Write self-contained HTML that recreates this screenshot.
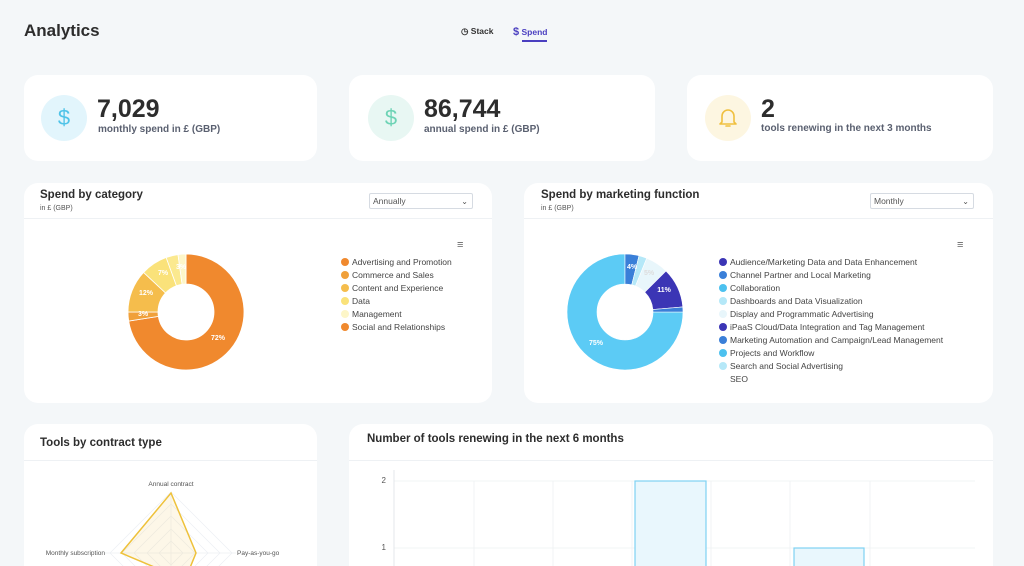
<!DOCTYPE html>
<html style="overflow:hidden;height:566px"><head><meta charset="utf-8"><style>
body{margin:0;width:1024px;height:566px;background:#f4f7f9;font-family:"Liberation Sans",sans-serif;position:relative;overflow:hidden;color:#333}
.a{position:absolute}
.card{position:absolute;background:#fff;border-radius:14px}
.big{font-size:25px;font-weight:bold;color:#2d2d2d}
.sub{font-size:10px;font-weight:bold;color:#5a6070}
.ic{position:absolute;width:46px;height:46px;border-radius:50%;text-align:center;line-height:46px;font-size:22px}
.ttl{font-size:11.5px;font-weight:bold;color:#2d2d2d}
.sel{position:absolute;width:104px;height:16px;border:1px solid #d6dbe2;border-radius:2px;font-size:8.5px;color:#555;line-height:15px;padding-left:3px;box-sizing:border-box}
.lg{font-size:8.5px;color:#444;line-height:13px}
.dot{display:inline-block;width:8px;height:8px;border-radius:50%;margin-right:3px;vertical-align:-1px}
</style></head><body>
<div class="a" style="left:24px;top:21px;font-size:17px;font-weight:bold;color:#2d2d2d">Analytics</div>
<div class="a" style="left:461px;top:26px;font-size:8.5px;font-weight:bold;color:#333">◷ Stack</div>
<div class="a" style="left:513px;top:26px;font-size:8.5px;font-weight:bold;color:#4a3fc0"><span style="font-size:11px">$</span> <span style="border-bottom:2px solid #4a3fc0;padding-bottom:3px">Spend</span></div>

<div class="card" style="left:24px;top:75px;width:293px;height:86px"></div>
<div class="ic" style="left:41px;top:95px;background:#e2f5fc;color:#4fc3e8">$</div>
<div class="a big" style="left:97px;top:95px">7,029</div>
<div class="a sub" style="left:98px;top:124px">monthly spend in £ (GBP)</div>

<div class="card" style="left:349px;top:75px;width:306px;height:86px"></div>
<div class="ic" style="left:368px;top:95px;background:#e8f7f3;color:#6dd3b5">$</div>
<div class="a big" style="left:424px;top:95px">86,744</div>
<div class="a sub" style="left:424px;top:124px">annual spend in £ (GBP)</div>

<div class="card" style="left:687px;top:75px;width:306px;height:86px"></div>
<div class="ic" style="left:705px;top:95px;background:#fdf6e1"></div>
<svg class="a" style="left:718px;top:107px" width="20" height="22" viewBox="0 0 20 22"><path d="M4,15V9a6,6 0 0 1 12,0v6l2,2H2Z" fill="none" stroke="#f0c040" stroke-width="1.6" stroke-linejoin="round"/><path d="M8,19h4" stroke="#f0c040" stroke-width="1.6" stroke-linecap="round"/></svg>
<div class="a big" style="left:761px;top:95px">2</div>
<div class="a sub" style="left:761px;top:123px">tools renewing in the next 3 months</div>

<div class="card" style="left:24px;top:183px;width:468px;height:220px"></div>
<div class="a" style="left:24px;top:218px;width:468px;border-top:1px solid #eef1f4"></div>
<div class="a ttl" style="left:40px;top:189px">Spend by category</div>
<div class="a" style="left:40px;top:205px;font-size:7px;color:#555">in £ (GBP)</div>
<div class="sel" style="left:369px;top:193px">Annually<span style="position:absolute;right:4px;font-size:8px">⌄</span></div>
<div class="a" style="left:457px;top:239px;font-size:11px;color:#666">≡</div>
<div class="a lg" style="left:341px;top:256px">
<div><span class="dot" style="background:#f0892e"></span>Advertising and Promotion</div>
<div><span class="dot" style="background:#f0a03a"></span>Commerce and Sales</div>
<div><span class="dot" style="background:#f5bd4c"></span>Content and Experience</div>
<div><span class="dot" style="background:#fae27a"></span>Data</div>
<div><span class="dot" style="background:#fdf6c8"></span>Management</div>
<div><span class="dot" style="background:#f0892e"></span>Social and Relationships</div>
</div>

<div class="card" style="left:524px;top:183px;width:469px;height:220px"></div>
<div class="a" style="left:524px;top:218px;width:469px;border-top:1px solid #eef1f4"></div>
<div class="a ttl" style="left:541px;top:189px">Spend by marketing function</div>
<div class="a" style="left:541px;top:205px;font-size:7px;color:#555">in £ (GBP)</div>
<div class="sel" style="left:870px;top:193px">Monthly<span style="position:absolute;right:4px;font-size:8px">⌄</span></div>
<div class="a" style="left:957px;top:239px;font-size:11px;color:#666">≡</div>
<div class="a lg" style="left:719px;top:256px">
<div><span class="dot" style="background:#3b35b5"></span>Audience/Marketing Data and Data Enhancement</div>
<div><span class="dot" style="background:#3a7fd8"></span>Channel Partner and Local Marketing</div>
<div><span class="dot" style="background:#4cc1ef"></span>Collaboration</div>
<div><span class="dot" style="background:#b5e8f8"></span>Dashboards and Data Visualization</div>
<div><span class="dot" style="background:#e8f6fb"></span>Display and Programmatic Advertising</div>
<div><span class="dot" style="background:#3b35b5"></span>iPaaS Cloud/Data Integration and Tag Management</div>
<div><span class="dot" style="background:#3a7fd8"></span>Marketing Automation and Campaign/Lead Management</div>
<div><span class="dot" style="background:#4cc1ef"></span>Projects and Workflow</div>
<div><span class="dot" style="background:#b5e8f8"></span>Search and Social Advertising</div>
<div><span class="dot" style="background:#fff"></span>SEO</div>
</div>

<div class="card" style="left:24px;top:424px;width:293px;height:142px;border-radius:14px 14px 0 0"></div>
<div class="a" style="left:24px;top:460px;width:293px;border-top:1px solid #eef1f4"></div>
<div class="a ttl" style="left:40px;top:437px">Tools by contract type</div>
<div class="card" style="left:349px;top:424px;width:644px;height:142px;border-radius:14px 14px 0 0"></div>
<div class="a" style="left:349px;top:460px;width:644px;border-top:1px solid #eef1f4"></div>
<div class="a ttl" style="left:367px;top:433px">Number of tools renewing in the next 6 months</div>

<svg class="a" style="left:0;top:0" width="1024" height="566" font-family="Liberation Sans, sans-serif">
<g transform="translate(186,312)" stroke="#fff" stroke-width="0.8">
<path d="M0,-58A58,58 0 1 1 -57.29,9.07L-27.66,4.38A28,28 0 1 0 0,-28Z" fill="#f0892e"/>
<path d="M-57.29,9.07A58,58 0 0 1 -58,0L-28,0A28,28 0 0 0 -27.66,4.38Z" fill="#f0a03a"/>
<path d="M-58,0A58,58 0 0 1 -42.42,-39.56L-20.48,-19.1A28,28 0 0 0 -28,0Z" fill="#f5bd4c"/>
<path d="M-42.42,-39.56A58,58 0 0 1 -19.84,-54.5L-9.58,-26.31A28,28 0 0 0 -20.48,-19.1Z" fill="#fae27a"/>
<path d="M-19.84,-54.5A58,58 0 0 1 -8,-57.45L-3.9,-27.73A28,28 0 0 0 -9.58,-26.31Z" fill="#fbe98f"/>
<path d="M-8,-57.45A58,58 0 0 1 0,-58L0,-28A28,28 0 0 0 -3.9,-27.73Z" fill="#fdf6c8"/>
</g>
<g font-size="7" font-weight="bold" fill="#fff" text-anchor="middle">
<text x="218" y="340">72%</text><text x="143" y="316">3%</text><text x="146" y="295">12%</text><text x="163" y="275">7%</text><text x="181" y="269">3%</text>
</g>
<g transform="translate(625,312)" stroke="#fff" stroke-width="0.6">
<path d="M58,0A58,58 0 1 1 0,-58L0,-28A28,28 0 1 0 28,0Z" fill="#5ccbf5"/>
<path d="M0,-58A58,58 0 0 1 14.03,-56.28L6.77,-27.17A28,28 0 0 0 0,-28Z" fill="#3a7fd8"/>
<path d="M14.03,-56.28A58,58 0 0 1 21.73,-53.78L10.49,-25.96A28,28 0 0 0 6.77,-27.17Z" fill="#b5e8f8"/>
<path d="M21.73,-53.78A58,58 0 0 1 41.01,-41.01L19.8,-19.8A28,28 0 0 0 10.49,-25.96Z" fill="#e8f6fb"/>
<path d="M41.01,-41.01A58,58 0 0 1 57.78,-5.06L27.89,-2.44A28,28 0 0 0 19.8,-19.8Z" fill="#3b35b5"/>
<path d="M57.78,-5.06A58,58 0 0 1 58,0L28,0A28,28 0 0 0 27.89,-2.44Z" fill="#3a7fd8"/>
</g>
<g font-size="7" font-weight="bold" fill="#fff" text-anchor="middle">
<text x="596" y="345">75%</text><text x="632" y="269">4%</text><text x="664" y="292">11%</text><text x="649" y="275" fill="#ddd">5%</text>
</g>
<g stroke="#eceff3" stroke-width="0.7" fill="none">
<path d="M171,492L232,553L171,614L110,553Z"/><path d="M171,504L220,553L171,602L122,553Z"/><path d="M171,516L208,553L171,590L134,553Z"/><path d="M171,529L195,553L171,577L147,553Z"/><path d="M171,541L183,553L171,565L159,553Z"/>
<line x1="171" y1="492" x2="171" y2="566"/><line x1="105" y1="553" x2="236" y2="553"/>
</g>
<path d="M171,493L196,553L185,580L121,553Z" fill="#f5d98a" fill-opacity="0.2" stroke="#eec13a" stroke-width="1.5"/>
<g font-size="6.5" fill="#555">
<text x="171" y="486" text-anchor="middle">Annual contract</text>
<text x="105" y="555" text-anchor="end">Monthly subscription</text>
<text x="237" y="555">Pay-as-you-go</text>
</g>
<g stroke="#eef0f3" stroke-width="0.8">
<line x1="394" y1="481" x2="975" y2="481"/><line x1="394" y1="548" x2="975" y2="548"/>
<line x1="474" y1="481" x2="474" y2="566"/><line x1="553" y1="481" x2="553" y2="566"/><line x1="632" y1="481" x2="632" y2="566"/><line x1="711" y1="481" x2="711" y2="566"/><line x1="790" y1="481" x2="790" y2="566"/><line x1="870" y1="481" x2="870" y2="566"/>
</g>
<line x1="394" y1="470" x2="394" y2="566" stroke="#dde1e6" stroke-width="0.8"/>
<g font-size="8" fill="#555" text-anchor="end"><text x="386" y="483">2</text><text x="386" y="550">1</text></g>
<rect x="635" y="481" width="71" height="100" fill="#e9f7fd" stroke="#7fd2f2" stroke-width="1.2"/>
<rect x="794" y="548" width="70" height="40" fill="#e9f7fd" stroke="#7fd2f2" stroke-width="1.2"/>
</svg>
</body></html>
